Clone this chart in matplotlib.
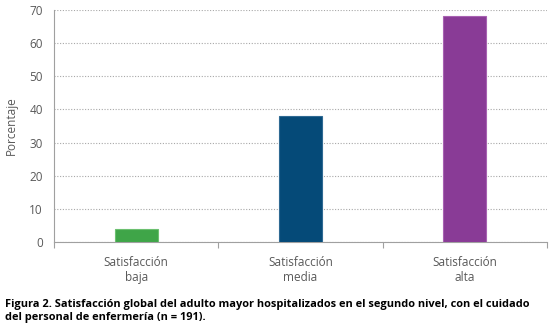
import matplotlib.pyplot as plt
import numpy as np

# data
categorias = ["Satisfacción\nbaja", "Satisfacción\nmedia", "Satisfacción\nalta"]
porcentaje = [4.0, 38.0, 68.2]
colores = ["#3fa548", "#054a78", "#893b96"]
bordes = ["#6cc070", "#2f6a93", "#a862b2"]

plt.rcParams['font.family'] = ['Open Sans', 'DejaVu Sans']

fig = plt.figure(figsize=(5.49, 3.34), dpi=100)
ax = fig.add_axes([54/549, 1 - 242/334, (547-54)/549, (242-10)/334])

x = np.arange(len(categorias))
ax.bar(x, porcentaje, 0.26, color=colores, edgecolor=bordes, linewidth=0.8, zorder=3)

ax.set_xlim(-0.5, 2.5)
ax.set_ylim(0, 70)
ax.set_yticks(range(0, 71, 10))
ax.yaxis.grid(True, linestyle=(0, (1, 1.5)), color="#a8a8a8", linewidth=0.8)
ax.set_axisbelow(True)

# ticks at category boundaries, labels centered
ax.set_xticks([-0.5, 0.5, 1.5, 2.5])
ax.set_xticklabels([])
ax.set_xticks(x, minor=True)
ax.set_xticklabels(categorias, minor=True, fontsize=8.5, color="#595959")
ax.tick_params(axis="x", which="minor", length=0, pad=10)
ax.tick_params(axis="x", which="major", length=4, color="#a0a0a0")
ax.tick_params(axis="y", length=0, labelsize=8.5, labelcolor="#595959", pad=8)

for s in ["top", "right"]:
    ax.spines[s].set_visible(False)
ax.spines["left"].set_color("#a0a0a0")
ax.spines["bottom"].set_color("#a0a0a0")

ax.set_ylabel("Porcentaje", fontsize=8.5, color="#595959", labelpad=8)

fig.text(5/549, 1 - 311/334, "Figura 2. Satisfacción global del adulto mayor hospitalizados en el segundo nivel, con el cuidado\ndel personal de enfermería (n = 191).",
         fontsize=7.9, fontweight="bold", va="center", ha="left", linespacing=1.35)

fig.savefig("out.png", dpi=100)
